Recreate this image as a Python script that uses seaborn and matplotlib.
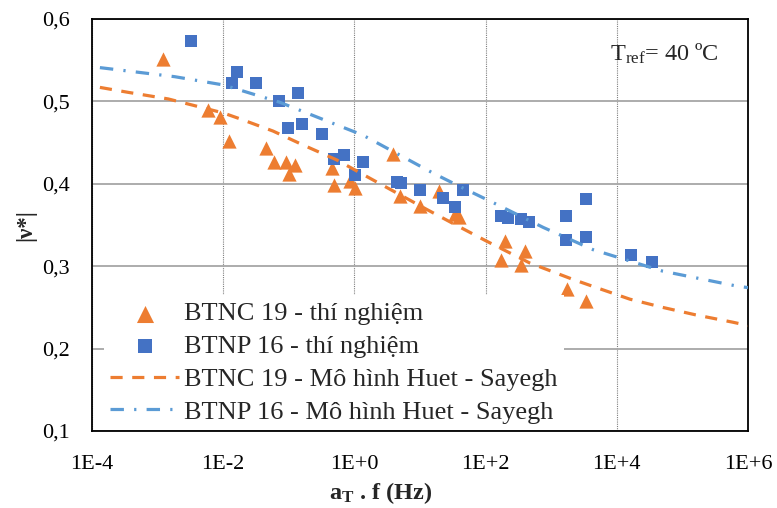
import numpy as np
import pandas as pd
import matplotlib
matplotlib.use("Agg")
import matplotlib.pyplot as plt
import seaborn as sns

# ---------------- data ----------------
btnc_x = [1.21e-3, 5.86e-3, 9.06e-3, 1.21e-2, 4.45e-2, 5.94e-2, 8.97e-2, 0.123, 0.0995,
          0.456, 0.489, 0.847, 1.01, 3.87, 5.02, 9.89, 19.3, 33.8, 38.9,
          195, 174, 394, 352, 1742, 3443]
btnc_y = [0.551, 0.490, 0.481, 0.452, 0.443, 0.426, 0.426, 0.423, 0.412,
          0.419, 0.398, 0.403, 0.395, 0.436, 0.385, 0.373, 0.391, 0.363, 0.360,
          0.330, 0.308, 0.318, 0.301, 0.272, 0.258]

btnp_x = [3.20e-3, 1.62e-2, 1.38e-2, 3.21e-2, 7.10e-2, 0.138, 0.0986, 0.161, 0.318,
          0.489, 0.693, 1.37, 1.01, 4.52, 5.08, 9.89, 22.4, 33.8, 45.2,
          174, 219, 352, 459, 1706, 3443, 1706, 3443, 16700, 34400]
btnp_y = [0.573, 0.536, 0.522, 0.522, 0.501, 0.510, 0.468, 0.473, 0.460,
          0.430, 0.435, 0.426, 0.411, 0.402, 0.401, 0.393, 0.383, 0.372, 0.393,
          0.361, 0.358, 0.357, 0.354, 0.361, 0.382, 0.332, 0.336, 0.314, 0.305]

model_btnc_x = [1.32e-4, 3.55e-4, 1.45e-3, 1.0e-2, 1.78e-2, 5.75e-2, 0.166, 0.537, 1.70,
                12.6, 31.6, 100, 468, 2138, 4898, 1.58e4, 5.01e4, 1.58e5, 5.89e5, 1.0e6]
model_btnc_y = [0.517, 0.511, 0.503, 0.486, 0.479, 0.464, 0.447, 0.429, 0.407,
                0.369, 0.352, 0.331, 0.304, 0.284, 0.274, 0.260, 0.250, 0.241, 0.232, 0.228]

model_btnp_x = [1.32e-4, 1.82e-3, 1.0e-2, 7.24e-2, 0.417, 1.35, 15.8, 39.8, 148,
                759, 4365, 5.01e4, 6.61e5, 1.0e6]
model_btnp_y = [0.541, 0.530, 0.520, 0.499, 0.475, 0.459, 0.413, 0.397, 0.375,
                0.347, 0.320, 0.294, 0.276, 0.274]

x_ticks = [1e-4, 1e-2, 1e0, 1e2, 1e4, 1e6]
x_tick_labels = ["1E-4", "1E-2", "1E+0", "1E+2", "1E+4", "1E+6"]
y_ticks = [0.1, 0.2, 0.3, 0.4, 0.5, 0.6]
y_tick_labels = ["0,1", "0,2", "0,3", "0,4", "0,5", "0,6"]

labels = ["BTNC 19 - thí nghiệm", "BTNP 16 - thí nghiệm",
          "BTNC 19 - Mô hình Huet - Sayegh", "BTNP 16 - Mô hình Huet - Sayegh"]

# ---------------- style ----------------
sns.set_theme(style="white")
plt.rcParams["font.family"] = ["Liberation Serif", "DejaVu Serif"]
plt.rcParams["mathtext.fontset"] = "custom"
plt.rcParams["mathtext.rm"] = "Liberation Serif"
plt.rcParams["mathtext.it"] = "Liberation Serif:italic"
plt.rcParams["mathtext.bf"] = "Liberation Serif:bold"

ORANGE = "#ED7D31"
BLUE_MK = "#4472C4"
BLUE_LN = "#5B9BD5"

fig = plt.figure(figsize=(7.77, 5.08), dpi=100)
ax = fig.add_axes([92 / 777, 1 - 431 / 508, 656 / 777, 412 / 508])
ax.set_xscale("log")

df_c = pd.DataFrame({"x": btnc_x, "y": btnc_y})
df_p = pd.DataFrame({"x": btnp_x, "y": btnp_y})
df_mc = pd.DataFrame({"x": model_btnc_x, "y": model_btnc_y})
df_mp = pd.DataFrame({"x": model_btnp_x, "y": model_btnp_y})

sns.scatterplot(data=df_c, x="x", y="y", marker="^", color=ORANGE, s=105,
                linewidth=0, ax=ax, label=labels[0], zorder=3)
sns.scatterplot(data=df_p, x="x", y="y", marker="s", color=BLUE_MK, s=80,
                linewidth=0, ax=ax, label=labels[1], zorder=3)
sns.lineplot(data=df_mc, x="x", y="y", sort=False, estimator=None, color=ORANGE,
             linewidth=2.3, linestyle=(0, (3.8, 3.0)), ax=ax, label=labels[2], zorder=4)
sns.lineplot(data=df_mp, x="x", y="y", sort=False, estimator=None, color=BLUE_LN,
             linewidth=2.3, linestyle=(0, (4.2, 3.2, 0.7, 3.2)), ax=ax, label=labels[3], zorder=4)

ax.set_xlim(1e-4, 1e6)
ax.set_ylim(0.1, 0.6)
ax.set_xticks(x_ticks)
ax.set_xticklabels(x_tick_labels)
ax.set_yticks(y_ticks)
ax.set_yticklabels(y_tick_labels)
ax.minorticks_off()
ax.tick_params(axis="both", which="major", direction="out", length=5, width=1,
               color="black", labelsize=16, labelcolor="black")
ax.tick_params(axis="x", pad=12)
ax.tick_params(axis="y", pad=11)

ax.set_axisbelow(True)
ax.yaxis.grid(True, color="#A6A6A6", linewidth=1.3, linestyle="-")
ax.xaxis.grid(True, color="#7F7F7F", linewidth=0.8, linestyle=(0, (1, 1)))

for sp in ax.spines.values():
    sp.set_visible(True)
    sp.set_color("black")
    sp.set_linewidth(1.3)

ax.set_xlabel(r"a$_\mathbf{T}$ . f (Hz)", fontsize=17.5, fontweight="bold")
ax.xaxis.set_label_coords((381 - 92) / 656, -0.118)
ax.set_ylabel("|ν*|", fontsize=16.5, fontweight="bold")
ax.yaxis.set_label_coords(-0.085, 0.50)

ax.text(0.79, 0.915, r"T$_{\mathrm{ref}}$= 40 ºC", transform=ax.transAxes,
        fontsize=17.5, ha="left", va="center")

leg = ax.legend(loc="lower left", bbox_to_anchor=(0.018, 0.002), borderaxespad=0,
                fontsize=19, frameon=True, facecolor="white", framealpha=1,
                edgecolor="none", fancybox=False, handlelength=2.6,
                handletextpad=0.2, labelspacing=0.35, borderpad=0.25,
                markerscale=1.2)
leg.get_frame().set_linewidth(0)

fig.savefig("out.png", dpi=100)
